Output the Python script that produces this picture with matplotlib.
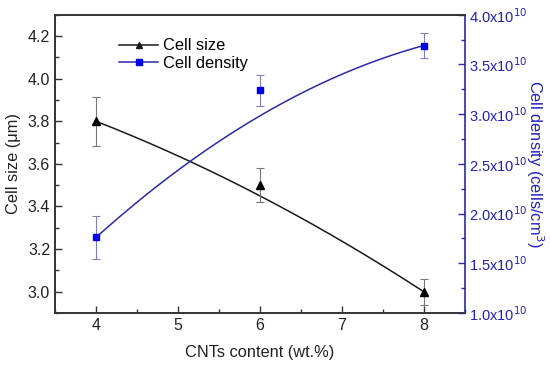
import numpy as np
import matplotlib
matplotlib.use('Agg')
import matplotlib.pyplot as plt
from matplotlib.ticker import MultipleLocator, FuncFormatter

plt.rcParams['font.family'] = ['Liberation Sans', 'DejaVu Sans']

cnt = np.array([4, 6, 8])
cell_size = np.array([3.80, 3.50, 3.00])
cell_size_err = np.array([0.115, 0.08, 0.06])
cell_density = np.array([1.76e10, 3.24e10, 3.69e10])
cell_density_err = np.array([0.22e10, 0.155e10, 0.125e10])

black = '#1a1a1a'
blue = '#2a2aa8'


def bspline(x, y, n=200):
    # quadratic B-spline through the three points (like Origin's "B-spline" connect)
    t = np.linspace(0, 1, n)
    bx = (1 - t)**2 * x[0] + 2 * t * (1 - t) * x[1] + t**2 * x[2]
    by = (1 - t)**2 * y[0] + 2 * t * (1 - t) * y[1] + t**2 * y[2]
    return bx, by


fig = plt.figure(figsize=(5.5, 3.67), dpi=100)
ax = fig.add_axes([0.1, 0.147, 0.745, 0.813])
ax2 = ax.twinx()

sx, sy = bspline(cnt, cell_size)
ax.plot(sx, sy, color=black, lw=1.1)
ax.errorbar(cnt, cell_size, yerr=cell_size_err, fmt='none', ecolor='#777777',
            elinewidth=0.8, capsize=3, capthick=0.8)
ax.plot(cnt, cell_size, '^', color='black', ms=6)

dx, dy = bspline(cnt, cell_density)
ax2.plot(dx, dy, color=blue, lw=1.1)
ax2.errorbar(cnt, cell_density, yerr=cell_density_err, fmt='none', ecolor='#8080c0',
             elinewidth=0.8, capsize=3, capthick=0.8)
ax2.plot(cnt, cell_density, 's', color='#0000ee', ms=5)

ax.set_xlim(3.5, 8.5)
ax.set_ylim(2.9, 4.3)
ax2.set_ylim(1.0e10, 4.0e10)

ax.xaxis.set_major_locator(MultipleLocator(1))
ax.xaxis.set_minor_locator(MultipleLocator(0.5))
ax.yaxis.set_major_locator(MultipleLocator(0.2))
ax.yaxis.set_minor_locator(MultipleLocator(0.1))
ax.yaxis.set_major_formatter(FuncFormatter(lambda v, p: '%.1f' % v))
ax2.yaxis.set_major_locator(MultipleLocator(0.5e10))
ax2.yaxis.set_minor_locator(MultipleLocator(0.25e10))
ax2.yaxis.set_major_formatter(FuncFormatter(lambda v, p: '%.1fx10$^{10}$' % (v / 1e10)))

ax.tick_params(which='both', direction='in', colors='#333333', labelcolor='#222222',
               labelsize=11.5, width=1)
ax.tick_params(which='major', length=5)
ax.tick_params(which='minor', length=3)
ax2.tick_params(which='both', direction='in', colors=blue, labelcolor='#2020c0',
                labelsize=10.5, width=1, pad=3)
ax2.tick_params(which='major', length=5)
ax2.tick_params(which='minor', length=3)

for s in ['left', 'bottom', 'top']:
    ax.spines[s].set_color('#333333')
    ax.spines[s].set_linewidth(1.2)
    ax2.spines[s].set_color('#333333')
    ax2.spines[s].set_linewidth(1.2)
ax2.spines['right'].set_color(blue)
ax2.spines['right'].set_linewidth(1.2)
ax.spines['right'].set_visible(False)

ax.set_xlabel('CNTs content (wt.%)', fontsize=11.8, color='#222222', labelpad=9)
ax.set_ylabel('Cell size (\u03bcm)', fontsize=11.8, color='#222222', labelpad=5)
ax2.set_ylabel('Cell density (cells/cm$^3$)', fontsize=11.8, color='#2020c0',
               rotation=270, labelpad=13)

h1, = ax.plot([], [], '-^', color=black, ms=5, lw=1.1)
h2, = ax.plot([], [], '-s', color=blue, mfc='#0000ee', mec='#0000ee', ms=4.5, lw=1.1)
ax.legend([h1, h2], ['Cell size', 'Cell density'], loc='upper left',
          bbox_to_anchor=(0.12, 0.97), frameon=False, fontsize=11.8,
          handlelength=2.4, handletextpad=0.3, labelspacing=0.15)

fig.savefig('out.png', dpi=100)
